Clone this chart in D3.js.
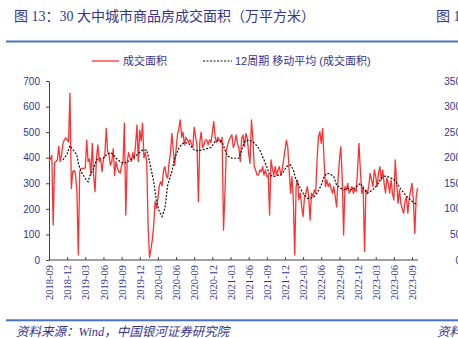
<!DOCTYPE html>
<html><head><meta charset="utf-8">
<script src="https://cdn.jsdelivr.net/npm/d3@7"></script>
<style>body{margin:0;background:#fff;}svg{display:block}</style>
</head><body><svg id="c" width="458" height="338"></svg>
<script>
// ---- data ----
const tickLabels = ["2018-09","2018-12","2019-03","2019-06","2019-09","2019-12","2020-03","2020-06","2020-09","2020-12","2021-03","2021-06","2021-09","2021-12","2022-03","2022-06","2022-09","2022-12","2023-03","2023-06","2023-09"];
const yTicks = [0,100,200,300,400,500,600,700];
const rightTicks = [0,50,100,150,200,250,300,350];
// weekly transaction area (10k m2), week 0 = 2018-09
const area = [
385,395,410,137,380,385,390,445,385,410,
455,470,478,470,462,652,280,345,350,335,
267,20,345,358,358,358,360,469,385,395,
332,456,330,267,400,450,385,395,345,395,
410,515,425,410,370,385,435,330,385,360,
345,340,370,380,535,176,385,420,400,385,
420,395,450,528,385,508,465,535,400,420,
385,130,10,40,80,135,228,202,240,290,
306,290,350,365,330,320,380,420,495,430,
370,430,490,515,548,480,500,450,480,470,
460,470,455,440,520,480,450,228,460,500,
440,450,470,470,450,470,460,500,541,480,
460,480,470,460,480,117,260,430,450,470,
480,490,440,456,489,456,437,385,476,489,
443,495,476,417,378,548,476,365,352,332,
332,352,345,365,332,352,326,332,176,391,
358,332,365,332,352,365,332,352,391,430,
469,443,352,261,326,235,20,287,313,235,
261,209,170,248,261,287,248,156,261,248,
274,261,391,482,502,456,515,391,287,313,
287,300,280,261,287,248,208,313,391,443,
326,98,287,274,300,261,274,287,261,280,
267,352,456,352,261,287,33,274,261,287,
339,313,287,352,326,287,339,365,313,352,
300,262,320,300,262,313,260,235,391,300,
222,274,222,200,183,230,248,183,240,270,
300,230,104,248,281];
// 12-period moving average, read at these week indices
const maWeek = [10,13,15,17,20,21,23,26,28,29,32,34,36,39,41,44,46,48,51,53,56,58,60,63,65,67,70,72,75,77,79,81,83,85,88,90,93,95,97,100,102,104,107,109,112,114,116,119,121,124,126,128,131,133,136,138,140,143,146,149,151,153,156,158,161,164,166,168,170,173,175,177,180,182,185,187,190,192,195,197,199,201,204,206,209,211,214,216,218,221,223,226,228,230,233,235,238,240,243,246,248,251,253,256,258,261,264];
const maValue = [391,415,447,432,411,378,345,319,306,326,358,391,398,398,411,420,413,398,385,378,382,391,398,411,421,430,430,385,306,228,189,170,202,293,345,398,437,452,460,456,443,430,426,430,434,437,440,463,467,463,430,407,398,398,398,430,463,469,463,446,430,404,365,332,326,332,332,345,365,372,352,313,280,261,241,241,248,261,293,326,339,337,326,293,280,274,280,274,280,290,300,274,261,267,280,293,319,328,325,318,310,285,270,250,240,225,215];

// ---- drawing ----
const svg = d3.select("#c");
const navy = "#34348f";
const x = d3.scaleLinear().domain([0, 264]).range([49, 417.6]);
const y = d3.scaleLinear().domain([0, 700]).range([260, 81]);

// title
svg.append("text").attr("x", 14).attr("y", 21)
  .style("font-family", "'Liberation Serif','Noto Sans CJK SC'").style("font-size", "14px")
  .attr("fill", navy).text("图 13：30 大中城市商品房成交面积（万平方米）");
svg.append("text").attr("x", 436).attr("y", 21)
  .style("font-family", "'Liberation Serif','Noto Sans CJK SC'").style("font-size", "14px")
  .attr("fill", navy).text("图 1");
// rules
svg.append("rect").attr("x", 6).attr("y", 40.5).attr("width", 452).attr("height", 2).attr("fill", "#4a72c2");
svg.append("rect").attr("x", 6).attr("y", 319.3).attr("width", 452).attr("height", 2).attr("fill", "#4a72c2");
// source
svg.append("text").attr("x", 16).attr("y", 336)
  .style("font-family", "'Liberation Serif','Noto Sans CJK SC'").style("font-size", "12.5px").style("font-style", "italic")
  .attr("fill", navy).text("资料来源：Wind，中国银河证券研究院");
svg.append("text").attr("x", 437).attr("y", 336)
  .style("font-family", "'Liberation Serif','Noto Sans CJK SC'").style("font-size", "12.5px").style("font-style", "italic")
  .attr("fill", navy).text("资料");

// legend
const lg = svg.append("g").style("font-family", "'Liberation Sans','Noto Sans CJK SC'").style("font-size", "11px");
lg.append("line").attr("x1", 92).attr("x2", 119).attr("y1", 61).attr("y2", 61).attr("stroke", "#ff3030").attr("stroke-width", 1.3);
lg.append("text").attr("x", 123).attr("y", 65).attr("fill", navy).text("成交面积");
lg.append("line").attr("x1", 203).attr("x2", 232).attr("y1", 61).attr("y2", 61).attr("stroke", "#111").attr("stroke-width", 1.2).attr("stroke-dasharray", "2,1.5");
lg.append("text").attr("x", 235).attr("y", 65).attr("fill", navy).text("12周期 移动平均 (成交面积)");

// y axis
const ya = svg.append("g").attr("transform", "translate(49,0)")
  .call(d3.axisLeft(y).tickValues(yTicks).tickSizeInner(3).tickSizeOuter(0).tickPadding(6));
ya.select(".domain").attr("stroke", "#444");
ya.selectAll(".tick line").attr("stroke", "#444");
ya.selectAll("text").attr("fill", navy).style("font-family", "'Liberation Sans'").style("font-size", "10px");

// x axis
const xa = svg.append("g").attr("transform", "translate(0,260)")
  .call(d3.axisBottom(x).tickValues(tickLabels.map((d, i) => i * 13)).tickFormat((d, i) => tickLabels[i]).tickSizeInner(-3).tickSizeOuter(0));
xa.select(".domain").attr("stroke", "#444").attr("d", "M49,0H418");
xa.selectAll(".tick line").attr("stroke", "#444");
xa.selectAll("text").attr("fill", navy).style("font-family", "'Liberation Serif'").style("font-size", "10.5px")
  .attr("transform", "rotate(-90)").attr("text-anchor", "end").attr("x", -5).attr("y", 0).attr("dy", "0.35em");

// right-hand axis labels of neighbouring chart (clipped)
svg.append("g").selectAll("text").data(rightTicks).join("text")
  .attr("x", 461).attr("y", d => y(d * 2)).attr("dy", "0.35em").attr("text-anchor", "end")
  .attr("fill", navy).style("font-family", "'Liberation Sans'").style("font-size", "10px").text(d => d);

// series
const line = d3.line().x((d, i) => x(i)).y(d => y(d));
svg.append("path").datum(area).attr("d", line).attr("fill", "none").attr("stroke", "#ff3030").attr("stroke-width", 1.3).attr("stroke-linejoin", "round");
const maLine = d3.line().x(d => x(d[0])).y(d => y(d[1]));
svg.append("path").datum(maWeek.map((w, i) => [w, maValue[i]])).attr("d", maLine)
  .attr("fill", "none").attr("stroke", "#111").attr("stroke-width", 1.2).attr("stroke-dasharray", "2,1.5");
</script></body></html>
